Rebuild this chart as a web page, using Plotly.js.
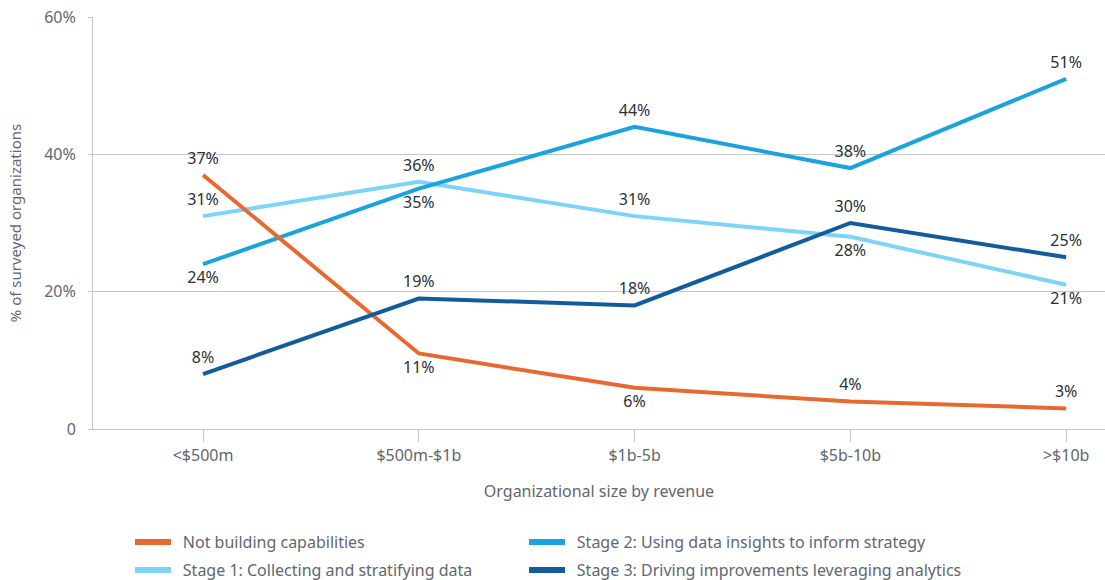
<!DOCTYPE html>
<html>
<head>
<meta charset="utf-8">
<script src="https://cdn.plot.ly/plotly-3.0.1.min.js"></script>
<style>html,body{margin:0;padding:0;background:#fff;}#chart{width:1105px;height:580px;}</style>
</head>
<body>
<div id="chart"></div>
<script>
const categories = ["<$500m", "$500m-$1b", "$1b-5b", "$5b-10b", ">$10b"];
const seriesNames = [
  "Not building capabilities",
  "Stage 1: Collecting and stratifying data",
  "Stage 2: Using data insights to inform strategy",
  "Stage 3: Driving improvements leveraging analytics"
];
const notBuilding = [37, 11, 6, 4, 3];
const stage1 = [31, 36, 31, 28, 21];
const stage2 = [24, 35, 44, 38, 51];
const stage3 = [8, 19, 18, 30, 25];
const notBuildingLabelPos = ["top center", "bottom center", "bottom center", "top center", "top center"];
const stage1LabelPos = ["top center", "top center", "top center", "bottom center", "bottom center"];
const stage2LabelPos = ["bottom center", "bottom center", "top center", "top center", "top center"];
const stage3LabelPos = ["top center", "top center", "top center", "top center", "top center"];
const yTickVals = [0, 20, 40, 60];
const yTickText = ["0", "20%", "40%", "60%"];

const colors = ["#E8692F", "#7DD4F7", "#1BA3DD", "#135C9B"];
const FONT = "Noto Sans, Open Sans, sans-serif";

function lineTrace(name, vals, color) {
  return {
    type: "scatter",
    mode: "lines",
    name: name,
    x: categories,
    y: vals,
    line: {color: color, width: 4},
    showlegend: false,
    hoverinfo: "skip",
    cliponaxis: false
  };
}
function legendTrace(name, color, legend, rank, lw) {
  return {
    type: "scatter",
    mode: "lines",
    name: "\u00a0\u2006" + name,
    x: [null],
    y: [null],
    line: {color: color, width: 6},
    legend: legend,
    legendrank: rank,
    legendwidth: lw,
    hoverinfo: "skip"
  };
}
function labelTrace(vals, pos) {
  return {
    type: "scatter",
    mode: "markers+text",
    x: categories,
    y: vals,
    text: vals.map(v => v + "%"),
    textposition: pos,
    textfont: {family: FONT, size: 16, color: "#2b3038"},
    marker: {size: 10, opacity: 0},
    showlegend: false,
    hoverinfo: "skip",
    cliponaxis: false
  };
}

const traces = [
  lineTrace(seriesNames[1], stage1, colors[1]),
  lineTrace(seriesNames[2], stage2, colors[2]),
  lineTrace(seriesNames[0], notBuilding, colors[0]),
  lineTrace(seriesNames[3], stage3, colors[3]),
  legendTrace(seriesNames[0], colors[0], "legend", 1, 343),
  legendTrace(seriesNames[2], colors[2], "legend", 2, 460),
  legendTrace(seriesNames[1], colors[1], "legend2", 1, 343),
  legendTrace(seriesNames[3], colors[3], "legend2", 2, 460),
  labelTrace(notBuilding, notBuildingLabelPos),
  labelTrace(stage1, stage1LabelPos),
  labelTrace(stage2, stage2LabelPos),
  labelTrace(stage3, stage3LabelPos)
];

const legendCommon = {
  orientation: "h",
  xref: "container",
  yref: "container",
  xanchor: "left",
  yanchor: "middle",
  x: 130 / 1105,
  entrywidthmode: "pixels",
  itemwidth: 36,
  font: {family: FONT, size: 16, color: "#5f6770"},
  bgcolor: "rgba(0,0,0,0)",
  borderwidth: 0
};

const layout = {
  width: 1105,
  height: 580,
  margin: {l: 93, r: 0, t: 17, b: 151},
  paper_bgcolor: "#fff",
  plot_bgcolor: "#fff",
  font: {family: FONT, size: 16, color: "#5f6770"},
  showlegend: true,
  legend: Object.assign({}, legendCommon, {y: 1 - 542 / 580}),
  legend2: Object.assign({}, legendCommon, {y: 1 - 570 / 580}),
  xaxis: {
    type: "category",
    range: [-0.51, 4.18],
    showline: true,
    linecolor: "#c3c7cc",
    linewidth: 1,
    showgrid: false,
    zeroline: false,
    ticks: "outside",
    ticklen: 12,
    tickcolor: "#c3c7cc",
    tickfont: {family: FONT, size: 16, color: "#5f6770"},
    title: {text: "Organizational size by revenue", font: {family: FONT, size: 16, color: "#5f6770"}, standoff: 20},
    automargin: false,
    fixedrange: true
  },
  yaxis: {
    range: [0, 60],
    tickvals: yTickVals,
    ticktext: yTickText,
    showline: true,
    linecolor: "#c3c7cc",
    linewidth: 1,
    showgrid: true,
    gridcolor: "#c3c7cc",
    gridwidth: 1,
    zeroline: false,
    ticks: "outside",
    ticklen: 4,
    tickcolor: "#c3c7cc",
    ticklabelstandoff: 9,
    tickfont: {family: FONT, size: 16, color: "#5f6770"},
    title: {text: "% of surveyed organizations", font: {family: FONT, size: 15, color: "#5f6770"}, standoff: 18},
    automargin: false,
    fixedrange: true
  }
};

Plotly.newPlot("chart", traces, layout, {displayModeBar: false, staticPlot: true});
</script>
</body>
</html>
